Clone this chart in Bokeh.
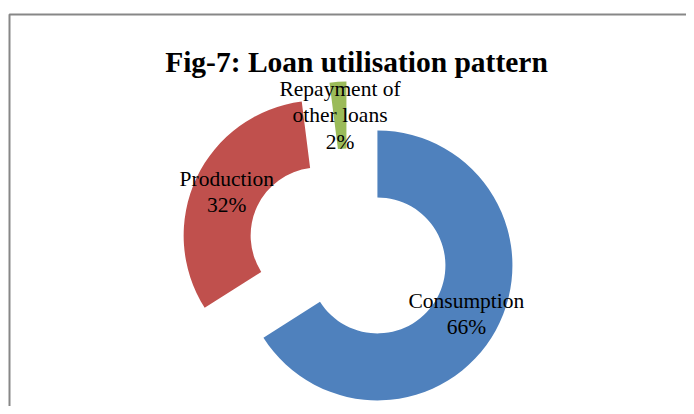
import numpy as np
from bokeh.plotting import figure
from bokeh.models import Range1d, ColumnDataSource
from bokeh.core.properties import value
from bokeh.embed import file_html
from bokeh.resources import INLINE

# ---- data ----
categories = ["Consumption", "Production", "Repayment of\nother loans"]
shares = [66, 32, 2]
colors = ["#4F81BD", "#C0504D", "#9BBB59"]
title_text = "Fig-7: Loan utilisation pattern"

# ---- layout (pixels, 1:1 data units) ----
W, H = 686, 406
CX, CY = 348.0, 157.0      # donut centre
R_OUT, R_IN = 135.0, 68.0  # outer / inner radius
EXPLODE = 33.0             # slice explosion distance
FONT = value("Liberation Serif")

p = figure(width=W, height=H, x_range=Range1d(0, W), y_range=Range1d(0, H),
           output_backend="svg", toolbar_location=None, min_border=0,
           x_axis_location=None, y_axis_location=None)
p.grid.visible = False
p.outline_line_color = None
p.background_fill_color = "white"
p.border_fill_color = "white"

# chart border (gray frame, right/bottom run past the window)
p.line(x=[9, 9, W + 20], y=[-20, 392, 392], line_color="#878787", line_width=2)

vals = np.array(shares, dtype=float)
frac = vals / vals.sum()
cum_end = np.cumsum(frac) * 2 * np.pi
cum_start = cum_end - frac * 2 * np.pi
mid = (cum_start + cum_end) / 2  # clockwise from 12 o'clock

xs = CX + EXPLODE * np.sin(mid)
ys = CY + EXPLODE * np.cos(mid)
rm = (R_OUT + R_IN) / 2
lx = xs + rm * np.sin(mid)
ly = ys + rm * np.cos(mid)
labels = [f"{c}\n{s}%" for c, s in zip(categories, shares)]

src = ColumnDataSource(dict(x=xs, y=ys, start=np.pi / 2 - cum_start, end=np.pi / 2 - cum_end,
                            color=colors, lx=lx, ly=ly, label=labels))

p.annular_wedge(x="x", y="y", inner_radius=R_IN, outer_radius=R_OUT,
                start_angle="start", end_angle="end", direction="clock",
                fill_color="color", line_color=None, source=src)

p.text(x="lx", y="ly", text="label", source=src, text_align="center",
       text_baseline="middle", text_font=FONT, text_font_size="21.5px",
       text_color="black", text_line_height=1.1)

p.text(x=[356], y=[344.5], text=[title_text], text_align="center",
       text_baseline="alphabetic", text_font=FONT, text_font_size="29.5px",
       text_font_style="bold", text_color="black")

open("out.html", "w").write(file_html(p, INLINE))
